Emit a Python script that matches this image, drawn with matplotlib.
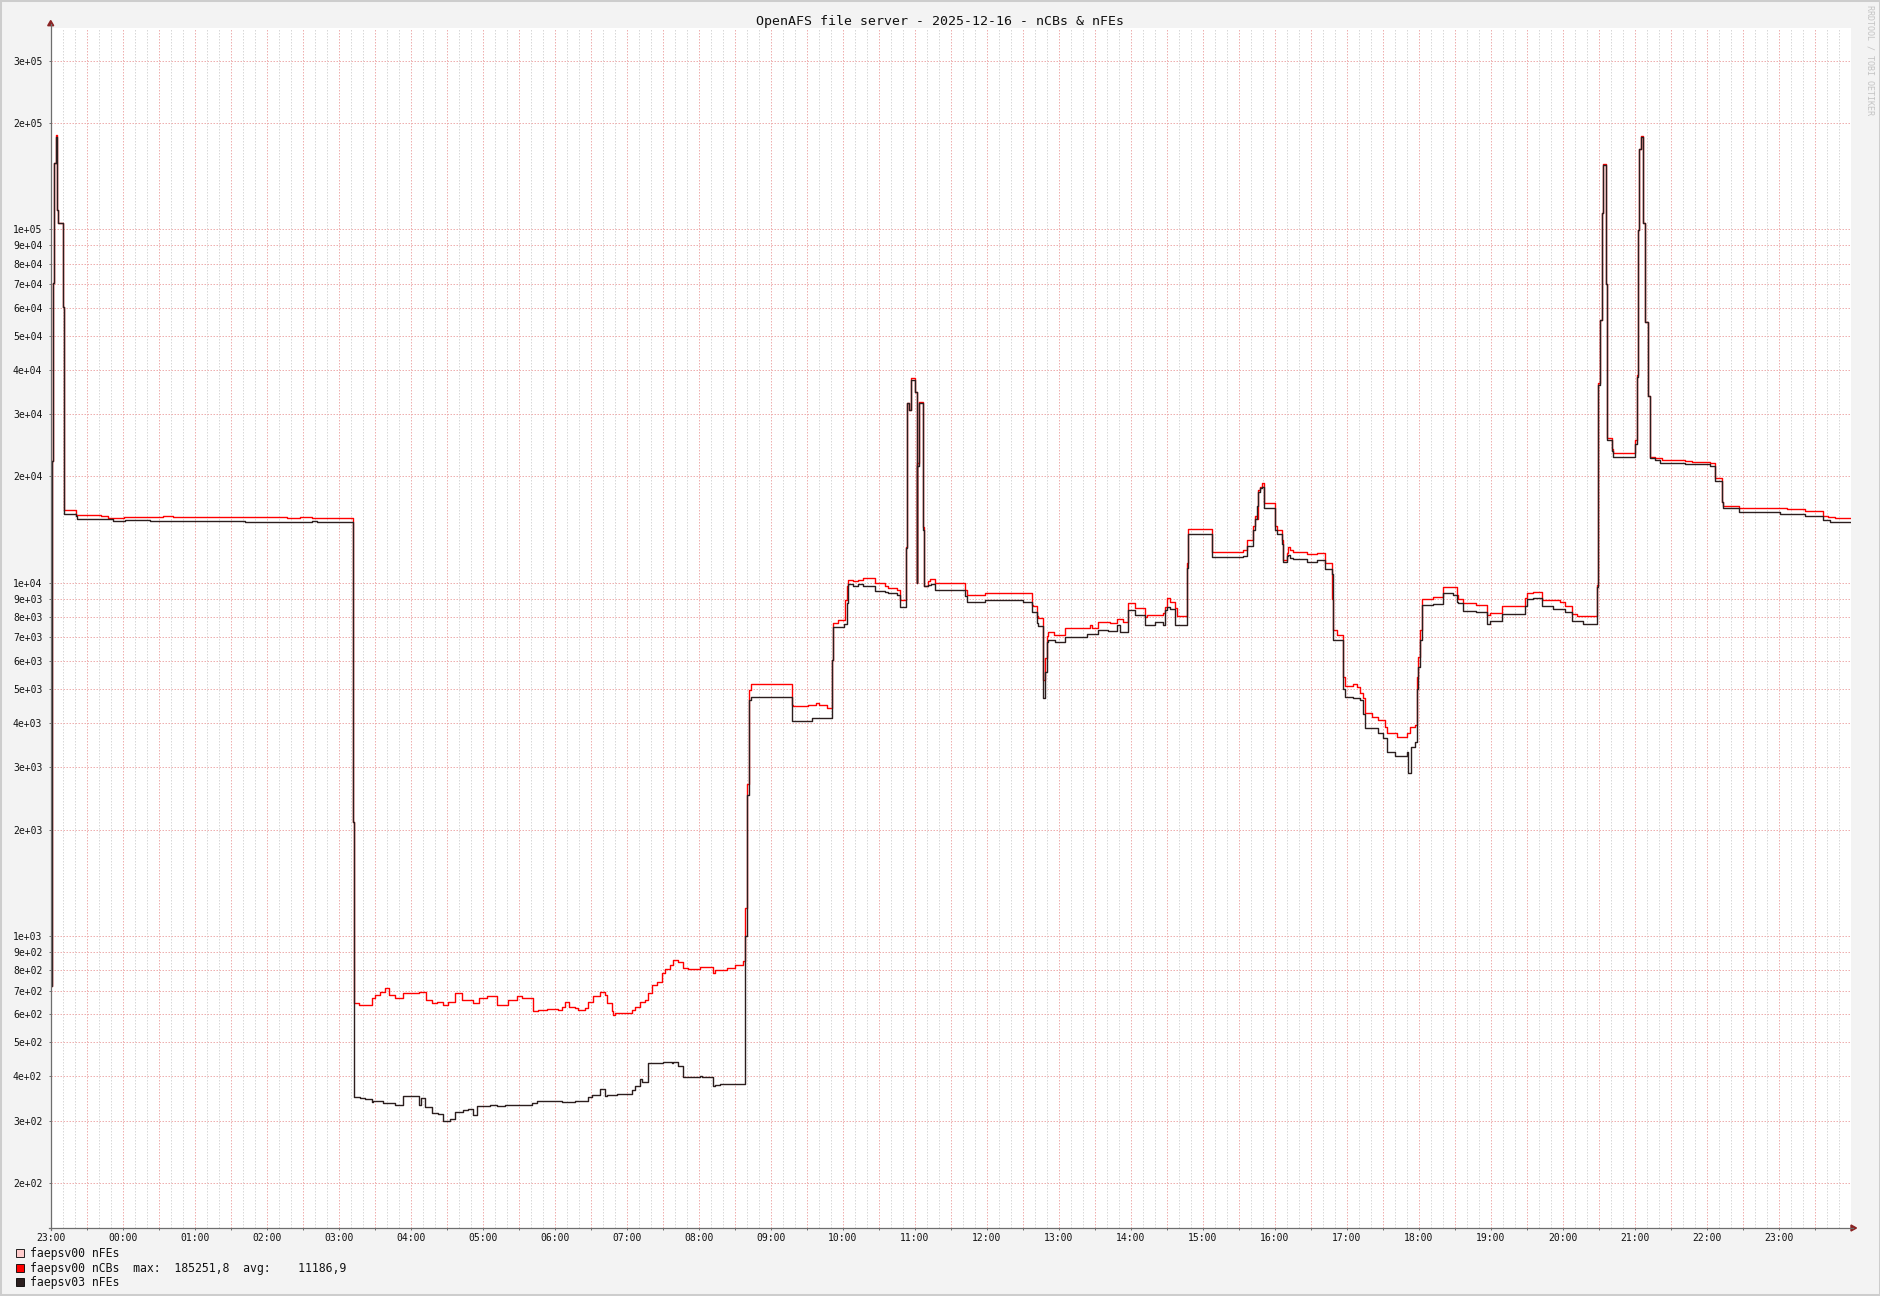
import matplotlib
matplotlib.use('Agg')
import matplotlib.pyplot as plt
from matplotlib.patches import Rectangle, Polygon
from matplotlib.lines import Line2D
from matplotlib.ticker import FixedLocator, MultipleLocator, FuncFormatter

# ---------------- data (time = minutes since 23:00 of the previous day) ----------------
hour_labels = ['23:00'] + ['%02d:00' % h for h in range(0, 24)]

t_ncbs = [0, 0.8, 1.6, 3.0, 4.1, 5.5, 6.4, 10.5, 11.4,
          21.1, 41.9, 47.5, 61.1, 93.9, 102.2, 196.7, 207.8, 217.5, 252.2, 253.0,
          257.2, 268.0, 270.3, 274.4, 278.6, 282.2, 286.9, 293.9, 307.2, 312.5, 317.5, 321.7,
          327.2, 331.4, 337.0, 342.5, 352.2, 357.2, 363.3, 371.7, 381.4, 388.3, 392.5, 401.7,
          406.4, 413.3, 423.0, 425.8, 428.6, 432.2, 437.0, 439.7, 445.3, 448.0, 452.2, 457.8,
          461.9, 463.3, 467.5, 468.9, 470.3, 484.2, 487.0, 491.1, 495.3, 498.0, 500.8, 505.0,
          509.2, 511.9, 516.1, 518.9, 523.0, 527.2, 531.4, 541.1, 552.2, 553.6, 563.3, 570.3,
          577.2, 578.5, 580.0, 582.0, 583.5,
          617.5, 619.0, 631.4, 637.8, 640.0, 646.7, 650.8, 652.2, 656.4, 662.0, 663.3, 664.7,
          668.9, 673.0, 677.2, 686.9, 695.3, 698.0, 705.0, 707.8, 712.8, 713.9, 715.3, 717.2,
          720.5, 721.7, 722.2, 723.3, 726.7, 727.8, 731.4, 732.8, 736.9, 761.9, 763.3, 778.6,
          817.5, 818.9, 821.7, 823.0, 827.2, 828.6, 830.0, 831.3, 836.0, 845.5,
          863.3, 866.1, 867.5, 873.0, 882.7, 888.3, 891.1, 893.8, 898.0, 903.6, 911.9, 913.3,
          927.2, 928.6, 930.0, 932.7, 936.9, 938.3, 946.6, 948.0, 967.5, 993.8, 996.6, 1002.2,
          1003.6, 1005.0, 1006.3, 1007.7, 1009.1, 1011.1, 1020.2, 1021.6, 1025.8, 1027.2, 1030.0,
          1031.3, 1032.7, 1035.5, 1046.6, 1055.0, 1061.9, 1067.5, 1068.8, 1071.6, 1077.2, 1078.6,
          1085.5, 1088.3, 1091.1, 1093.8, 1095.2, 1100.8, 1106.3, 1111.9, 1113.3, 1121.6, 1130.0,
          1132.7, 1136.9, 1138.3, 1139.7, 1141.1, 1142.5,
          1152.2, 1160.5, 1171.6, 1173.0, 1177.2, 1187.7, 1197.2, 1199.4, 1209.1, 1228.6, 1230.5,
          1235.5, 1242.5, 1257.7, 1261.9, 1267.5, 1271.6,
          1288.3, 1289.7, 1291.1, 1292.5, 1293.8, 1295.8, 1296.6, 1300.8, 1302.2, 1307.7, 1320.2,
          1321.6, 1322.7, 1323.8, 1325.0, 1326.6, 1328.6, 1331.3, 1332.7, 1336.9, 1342.5, 1361.9,
          1367.5, 1382.7, 1386.9, 1392.5, 1393.8, 1407.2, 1428.6, 1446.6, 1461.9, 1477.2, 1481.3,
          1486.9, 1500]
v_ncbs = [720, 22100, 70600, 154000, 185250, 113400, 104000, 60100, 16020,
          15520, 15400, 15270, 15330, 15400, 15330, 15240, 15330, 15240, 2100, 645,
          638, 666, 681, 696, 711, 681, 666, 688, 696, 659, 645, 652,
          638, 652, 688, 659, 645, 666, 674, 638, 659, 674, 666, 611,
          617, 621, 617, 631, 652, 631, 624, 617, 624, 652, 674, 696,
          681, 645, 611, 597, 604, 617, 631, 652, 659, 688, 727, 742,
          784, 805, 828, 855, 845, 810, 805, 816, 784, 801, 810, 828,
          850, 1200, 2700, 4950, 5180,
          4510, 4460, 4510, 4560, 4510, 4410, 6040, 7680, 7850, 8940, 9760, 10190,
          10080, 10190, 10300, 9970, 9760, 9650, 9550, 8900, 12640, 32180, 30800, 37870,
          34710, 9970, 21760, 32530, 14410, 9760, 10080, 10230, 9970, 9550, 9240, 9340,
          8650, 8560, 8030, 7940, 5300, 6100, 7040, 7270, 7100, 7420,
          7450, 7600, 7420, 7750, 7670, 7880, 7910, 7750, 8740, 8450, 8000, 8090,
          8180, 8550, 9030, 8830, 8450, 8040, 11340, 14200, 12240, 12370, 13200, 14500,
          15400, 15100, 18300, 18700, 19100, 16760, 14500, 14100, 13200, 11590, 12110,
          12600, 12370, 12240, 12050, 12110, 11340, 9000, 7350, 7110, 5400, 5090,
          5170, 5080, 4860, 4710, 4280, 4170, 4090, 3910, 3750, 3650, 3750,
          3910, 3950, 5400, 6150, 7350, 9010,
          9100, 9710, 9250, 9010, 8750, 8650, 8100, 8200, 8590, 9050, 9350,
          9410, 8930, 8810, 8610, 8150, 8060,
          9820, 36700, 55500, 111300, 152900, 70100, 25600, 23900, 23300, 23200, 25300,
          38700, 99500, 168400, 183700, 104000, 54800, 33800, 22700, 22600, 22200, 22100,
          22000, 21850, 19800, 16860, 16520, 16290, 16230, 16110, 15990, 15450, 15370,
          15210, 15210]

t_nfe03 = [0, 0.8, 1.6, 3.0, 4.1, 5.5, 6.4, 10.5, 11.4,
           21.1, 22.2, 47.5, 52.2, 61.9, 82.8, 161.9, 217.5, 221.7, 252.2, 253.0,
           257.8, 262.0, 267.5, 268.3, 277.2, 286.9, 293.9, 307.2, 308.3, 311.9, 317.5, 323.0,
           327.2, 332.8, 337.0, 343.9, 348.0, 352.2, 355.0, 357.8, 366.1, 371.7, 378.6, 388.3,
           400.8, 405.5, 423.0, 425.8, 436.9, 448.0, 450.8, 457.8, 461.9, 463.3, 471.7, 484.2,
           487.0, 491.1, 492.5, 498.0, 510.5, 517.5, 518.9, 523.0, 527.2, 541.1, 542.5, 552.2,
           553.6, 557.8, 578.3, 580.0, 582.0, 583.5,
           617.5, 634.2, 650.8, 652.2, 661.0, 663.3, 664.7, 668.9, 673.0, 677.2, 686.9, 695.3,
           698.0, 705.0, 707.8, 712.8, 713.9, 715.3, 717.2, 720.5, 721.7, 722.2, 723.3, 726.7,
           727.8, 731.4, 733.5, 736.9, 761.9, 763.3, 778.6, 796.7, 810.5, 817.5, 821.7, 823.0,
           827.2, 828.6, 830.0, 831.3, 836.9, 845.2, 863.3, 873.0, 881.3, 888.3, 891.1, 898.0,
           903.6, 911.9, 920.2, 927.2, 928.6, 930.0, 932.7, 936.9, 946.6, 948.0, 967.5, 993.8,
           996.6, 1002.2, 1003.6, 1005.0, 1006.3, 1007.7, 1009.1, 1011.1, 1020.2, 1021.6, 1025.8,
           1027.2, 1030.0, 1031.3, 1032.7, 1035.5, 1046.6, 1055.0, 1061.9, 1067.5, 1068.8, 1077.2,
           1078.6, 1085.5, 1091.1, 1093.8, 1095.2, 1106.3, 1110.5, 1113.3, 1120.2, 1130.0, 1131.3,
           1133.3, 1136.9, 1138.3, 1139.7, 1141.1, 1142.5,
           1152.2, 1160.5, 1168.8, 1171.6, 1173.0, 1177.2, 1187.7, 1197.2, 1199.4, 1209.1, 1228.6,
           1230.5, 1235.5, 1242.5, 1252.2, 1261.9, 1267.5, 1277.2,
           1288.3, 1289.7, 1291.1, 1292.5, 1293.8, 1295.8, 1296.6, 1300.8, 1302.2, 1320.2, 1321.6,
           1322.7, 1323.8, 1325.0, 1326.6, 1328.6, 1331.3, 1332.7, 1336.9, 1341.1, 1361.9, 1382.7,
           1386.9, 1392.5, 1393.8, 1407.2, 1441.1, 1461.9, 1477.2, 1482.7, 1500]
v_nfe03 = [720, 22100, 70600, 154000, 183000, 113400, 104000, 60100, 15640,
           15400, 15170, 15090, 14940, 15040, 14940, 14820, 14940, 14860, 2100, 351,
           347, 345, 338, 340, 337, 332, 353, 332, 347, 327, 315, 313,
           299, 303, 318, 322, 324, 311, 329, 331, 333, 329, 332, 333,
           337, 341, 340, 338, 340, 351, 355, 368, 353, 355, 358, 366,
           375, 393, 386, 438, 441, 438, 441, 427, 399, 401, 399, 375,
           378, 380, 1000, 2500, 4660, 4760,
           4060, 4150, 6040, 7510, 7650, 8750, 9920, 9760, 9920, 9760, 9440, 9390,
           9340, 9240, 8520, 12500, 32180, 30800, 37400, 34710, 9970, 21400, 32180, 14100,
           9760, 9860, 9920, 9550, 9140, 8840, 8940, 8940, 8840, 8240, 7680, 7540,
           4710, 5600, 6770, 6870, 6770, 7030, 7150, 7350, 7300, 7580, 7230, 8360,
           8090, 7600, 7750, 7580, 8360, 8550, 8400, 7580, 11000, 13760, 11780, 11860,
           12700, 14100, 15100, 16500, 18000, 18500, 18700, 16230, 14100, 13700, 12900,
           11470, 11860, 11990, 11730, 11640, 11410, 11590, 10930, 10600, 6870, 5000,
           4740, 4720, 4660, 4260, 3870, 3750, 3630, 3320, 3230, 3320, 2900,
           3430, 3550, 5000, 5760, 6870, 8650,
           8710, 9350, 9250, 8810, 8750, 8330, 8240, 7660, 7790, 8150, 8570,
           9010, 9050, 8570, 8420, 8240, 7790, 7650,
           9700, 36300, 55500, 111300, 152000, 70100, 25300, 23600, 22700, 24600, 38200,
           99500, 168400, 182300, 104000, 54800, 33800, 22500, 22200, 21850, 21650, 21400,
           19330, 16860, 16230, 15820, 15680, 15450, 15050, 14870, 14870]

max_ncbs = 185251.8
avg_ncbs = 11186.9

title = 'OpenAFS file server - 2025-12-16 - nCBs & nFEs'
legend_names = ['faepsv00 nFEs', 'faepsv00 nCBs', 'faepsv03 nFEs']
legend_colors = ['#ffcccc', '#ff0000', '#2b1e1e']

# ---------------- figure ----------------
W, H = 1881, 1296
MONO = 'DejaVu Sans Mono'
fig = plt.figure(figsize=(W / 100, H / 100), dpi=100, facecolor='#f3f3f3')
AX_L, AX_R, AX_T, AX_B = 50.7, 1850.7, 28, 1228
ax = fig.add_axes([AX_L / W, 1 - AX_B / H, (AX_R - AX_L) / W, (AX_B - AX_T) / H])
ax.set_facecolor('white')
ax.set_yscale('log')
ax.set_xlim(0, 1500)
ax.set_ylim(149, 371400)

# y ticks at 1..9 x 10^k
yt = [m * 10 ** e for e in range(2, 6) for m in range(1, 10)]
yt = [v for v in yt if 149 <= v <= 371400]
ax.yaxis.set_major_locator(FixedLocator(yt))
ax.yaxis.set_minor_locator(FixedLocator([]))
ax.yaxis.set_major_formatter(FuncFormatter(lambda v, p: ('%.0e' % v)))

ax.xaxis.set_major_locator(MultipleLocator(30))
ax.xaxis.set_minor_locator(MultipleLocator(10))
def xfmt(v, p):
    i = int(round(v))
    if i % 60 == 0 and 0 <= i // 60 < len(hour_labels):
        return hour_labels[i // 60]
    return ''
ax.xaxis.set_major_formatter(FuncFormatter(xfmt))

ax.tick_params(axis='both', which='major', length=1.5, width=0.7, color='#707070',
               labelsize=7, labelcolor='#111111')
ax.tick_params(axis='both', which='minor', length=0)
ax.tick_params(axis='y', pad=4.5)
ax.tick_params(axis='x', pad=2.2)
for lab in ax.get_xticklabels() + ax.get_yticklabels():
    lab.set_family(MONO)

ax.grid(True, axis='y', which='major', color='#eeb0b0', lw=0.72, linestyle=(0, (1.5, 1.5)))
ax.grid(True, axis='x', which='minor', color='#d8d8d8', lw=0.72, linestyle=(0, (1.5, 1.5)))
ax.grid(True, axis='x', which='major', color='#eeb0b0', lw=0.72, linestyle=(0, (1.5, 1.5)))
ax.set_axisbelow(True)
for s in ax.spines.values():
    s.set_visible(False)

# series
ax.plot(t_ncbs, v_ncbs, drawstyle='steps-post', color=legend_colors[1], lw=1.0, zorder=3)
ax.plot(t_nfe03, v_nfe03, drawstyle='steps-post', color=legend_colors[2], lw=1.0, zorder=4)

# axis lines + arrows
def fx(x):
    return x / W
def fy(y):
    return 1 - y / H
fig.add_artist(Line2D([fx(AX_L), fx(AX_L)], [fy(AX_B + 2), fy(24)], color='#6e6e6e', lw=0.9,
                      transform=fig.transFigure))
fig.add_artist(Line2D([fx(AX_L - 2), fx(1853)], [fy(AX_B), fy(AX_B)], color='#6e6e6e', lw=0.9,
                      transform=fig.transFigure))
fig.add_artist(Polygon([[fx(AX_L - 3), fy(25.7)], [fx(AX_L + 3), fy(25.7)], [fx(AX_L), fy(20.5)]],
                       closed=True, color='#8b2323', transform=fig.transFigure))
fig.add_artist(Polygon([[fx(1851), fy(AX_B - 3)], [fx(1851), fy(AX_B + 3)], [fx(1856.5), fy(AX_B)]],
                       closed=True, color='#8b2323', transform=fig.transFigure))

# title
fig.text(0.5, fy(25.5), title, family=MONO, fontsize=9.5, color='#111111',
         ha='center', va='baseline')

# watermark
fig.text(fx(1870), fy(5), 'RRDTOOL / TOBI OETIKER', family=MONO, fontsize=6,
         color='#c4c4c4', rotation=270, ha='center', va='top')

# legend
legend_texts = [legend_names[0],
                '%s  max:  %s  avg:    %s' % (legend_names[1],
                                              ('%.1f' % max_ncbs).replace('.', ','),
                                              ('%.1f' % avg_ncbs).replace('.', ',')),
                legend_names[2]]
baselines = [1257.3, 1271.8, 1286.3]
for txt, col, yb in zip(legend_texts, legend_colors, baselines):
    fig.add_artist(Rectangle((fx(15.7), fy(yb)), 8.3 / W, 8.3 / H, facecolor=col,
                             edgecolor='#000000', lw=0.6, transform=fig.transFigure))
    fig.text(fx(30.5), fy(yb), txt, family=MONO, fontsize=8.3, color='#111111',
             ha='left', va='baseline')

# outer frame
fig.add_artist(Rectangle((0, 0), 1, 1, fill=False, edgecolor='#cdcdcd', lw=2.9,
                         transform=fig.transFigure))

fig.savefig('out.png', dpi=100, facecolor=fig.get_facecolor())
